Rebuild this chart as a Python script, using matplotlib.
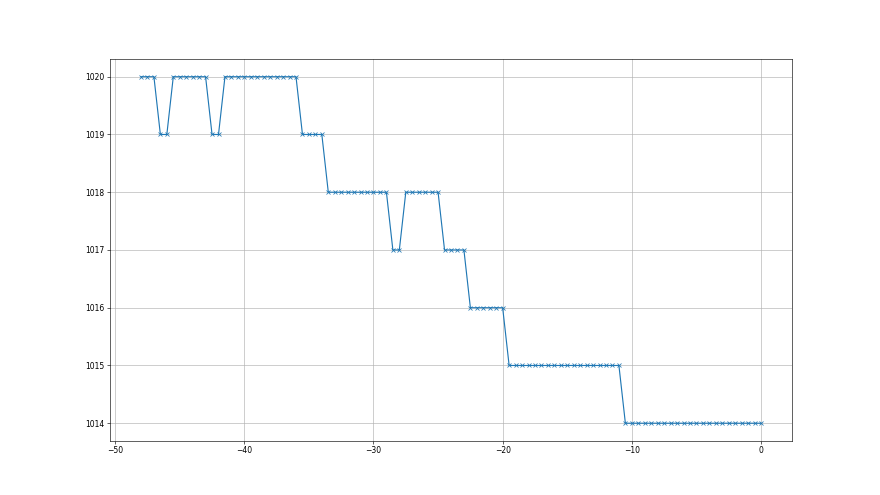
import matplotlib
matplotlib.use("Agg")
import matplotlib.pyplot as plt

# horas relativas (cada media hora)
hours = [-48.0, -47.5, -47.0, -46.5, -46.0, -45.5, -45.0, -44.5, -44.0, -43.5,
         -43.0, -42.5, -42.0, -41.5, -41.0, -40.5, -40.0, -39.5, -39.0, -38.5,
         -38.0, -37.5, -37.0, -36.5, -36.0, -35.5, -35.0, -34.5, -34.0, -33.5,
         -33.0, -32.5, -32.0, -31.5, -31.0, -30.5, -30.0, -29.5, -29.0, -28.5,
         -28.0, -27.5, -27.0, -26.5, -26.0, -25.5, -25.0, -24.5, -24.0, -23.5,
         -23.0, -22.5, -22.0, -21.5, -21.0, -20.5, -20.0, -19.5, -19.0, -18.5,
         -18.0, -17.5, -17.0, -16.5, -16.0, -15.5, -15.0, -14.5, -14.0, -13.5,
         -13.0, -12.5, -12.0, -11.5, -11.0, -10.5, -10.0, -9.5, -9.0, -8.5,
         -8.0, -7.5, -7.0, -6.5, -6.0, -5.5, -5.0, -4.5, -4.0, -3.5,
         -3.0, -2.5, -2.0, -1.5, -1.0, -0.5, 0.0]

# presion (hPa)
pressure = ([1020] * 3 + [1019] * 2 + [1020] * 6 + [1019] * 2 + [1020] * 12 +
            [1019] * 4 + [1018] * 10 + [1017] * 2 + [1018] * 6 + [1017] * 4 +
            [1016] * 6 + [1015] * 18 + [1014] * 22)

fig = plt.figure(figsize=(16, 9), dpi=55)
ax = fig.add_subplot(1, 1, 1)
ax.plot(hours, pressure, marker="x", color="#1f77b4", linewidth=1.5, markersize=6)
ax.grid(True)

plt.savefig("out.png", dpi=55)
